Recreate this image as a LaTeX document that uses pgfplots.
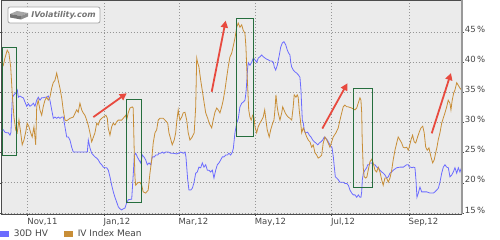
\documentclass[border=0pt]{standalone}
\usepackage{pgfplots}
\pgfplotsset{compat=1.18}
\usepackage{fontspec}
\setmainfont{DejaVu Sans}
\usetikzlibrary{arrows.meta}
\definecolor{hvblue}{RGB}{108,108,255}
\definecolor{ivorange}{RGB}{200,142,55}
\definecolor{bgGray}{RGB}{235,235,235}
\definecolor{gridGray}{RGB}{150,150,150}
\definecolor{txtGray}{RGB}{70,70,70}
\definecolor{boxGreen}{RGB}{38,110,62}
\definecolor{arrRed}{RGB}{232,74,63}
\begin{document}
\begin{tikzpicture}
\path[use as bounding box] (-1.7pt,-26pt) rectangle (498.3pt,214pt);
\fill[white] (-1.7pt,-26pt) rectangle (498.3pt,214pt);
\begin{axis}[
  at={(0pt,0pt)}, anchor=south west,
  scale only axis, width=460pt, height=214pt,
  xmin=-20.8, xmax=347.2, ymin=14.83, ymax=50.32,
  axis background/.style={fill=bgGray},
  axis line style={draw=black!70, line width=0.8pt},
  xtick={0,61,121,182,243,305},
  xticklabels={{Nov,11},{Jan,12},{Mar,12},{May,12},{Jul,12},{Sep,12}},
  ytick={15,20,25,30,35,40,45},
  yticklabels={{15\,\%},{20\,\%},{25\,\%},{30\,\%},{35\,\%},{40\,\%},{45\,\%}},
  yticklabel pos=right,
  grid=major,
  major grid style={gridGray, dash pattern=on 1pt off 2pt, line width=0.7pt},
  tick align=outside, major tick length=2pt,
  tick style={black!70, line width=0.6pt},
  xticklabel style={anchor=north west, inner sep=0pt, xshift=-0.5pt, yshift=-2pt,
     font=\fontsize{8.5}{10}\selectfont, text=txtGray},
  yticklabel style={anchor=west, inner sep=0pt, xshift=1pt, yshift=3pt,
     font=\fontsize{8.5}{10}\selectfont, text=txtGray},
  legend style={at={(-0.0037,-0.0935)}, anchor=west, draw=none, fill=none,
     inner sep=0pt, outer sep=0pt, legend columns=2,
     font=\fontsize{9}{10}\selectfont, text=txtGray,
     nodes={inner sep=1pt},
     /tikz/every odd column/.append style={column sep=4pt},
     /tikz/every even column/.append style={column sep=15pt}},
  legend image code/.code={\fill[#1] (0pt,-2.8pt) rectangle (8pt,2.8pt);},
]
\addplot[hvblue, line width=0.8pt] coordinates {
(-22.2,28.4) (-19.5,28.8) (-18.2,28.4) (-16.8,28.3) (-15.5,28.3) (-14.2,27.9) (-13.4,28.4)
(-12.8,31.6) (-12.3,34.1) (-11.0,34.6) (-9.6,34.9) (-8.3,35.4) (-7.5,34.2) (-6.2,34.4)
(-4.8,34.2) (-3.5,34.1) (-2.2,33.4) (-0.8,32.7) (0.5,33.1) (1.8,32.7) (3.2,32.9) (4.5,33.2)
(5.8,32.7) (7.2,33.7) (8.5,34.2) (9.8,33.7) (11.2,34.1) (12.5,34.1) (13.8,34.2) (15.2,34.2)
(16.5,34.4) (17.8,33.7) (19.2,32.1) (20.5,30.7) (21.8,30.9) (23.2,30.7) (24.5,30.9)
(25.8,30.7) (27.2,30.9) (28.5,30.9) (29.8,29.3) (31.2,27.6) (32.5,27.6) (33.8,27.1)
(35.2,25.9) (36.5,25.1) (39.4,25.1) (41.8,25.1) (44.5,25.1) (47.7,25.1) (48.5,27.1)
(49.8,25.8) (51.2,24.9) (52.5,24.6) (53.8,24.3) (55.2,24.1) (56.5,23.8) (57.8,23.3)
(59.2,23.0) (60.5,22.6) (61.8,22.5) (63.2,22.5) (64.5,22.1) (65.8,21.0) (67.2,19.6)
(68.5,18.5) (69.8,17.6) (71.2,16.8) (72.5,16.0) (73.8,15.7) (75.2,15.5) (76.5,15.7)
(77.8,15.8) (79.2,16.7) (80.5,17.2) (83.2,17.3) (84.5,21.6) (85.3,24.6) (86.4,24.9)
(87.7,24.3) (89.0,23.8) (90.4,23.3) (91.7,24.6) (93.0,24.3) (94.4,23.8) (95.7,23.0)
(97.0,23.3) (98.4,23.0) (99.7,24.3) (101.3,24.3) (102.4,24.6) (104.0,24.6) (105.0,24.9)
(106.4,24.9) (107.7,25.1) (109.0,24.9) (110.4,25.1) (112.5,25.1) (114.6,24.9) (116.5,24.9)
(119.2,24.8) (120.5,24.9) (122.4,25.1) (124.5,24.9) (125.8,25.1) (126.6,24.3) (128.0,20.5)
(129.0,18.8) (130.4,18.8) (131.7,19.1) (133.0,20.0) (134.4,21.6) (135.7,21.8) (137.0,22.6)
(138.4,22.5) (139.7,23.3) (141.0,22.6) (142.4,23.0) (143.7,22.1) (145.0,22.1) (146.4,21.8)
(147.7,22.1) (149.0,20.8) (150.4,22.1) (151.7,23.0) (153.0,23.3) (154.4,23.8) (155.7,24.3)
(157.0,24.3) (158.4,24.6) (159.7,24.6) (161.0,24.9) (162.4,24.6) (163.7,25.1) (164.5,25.7)
(165.8,28.3) (167.2,29.9) (168.5,30.7) (169.8,32.6) (171.2,33.2) (172.5,33.4) (173.8,33.7)
(174.6,34.9) (175.2,36.6) (176.0,39.2) (176.5,39.9) (177.8,39.5) (179.2,40.0) (180.5,40.7)
(181.8,40.4) (183.2,40.0) (184.5,40.7) (185.8,40.9) (187.2,41.2) (188.5,40.9) (189.8,40.7)
(191.2,40.5) (192.5,40.4) (193.8,40.2) (195.2,40.2) (196.5,40.0) (197.3,39.2) (198.4,38.7)
(199.7,39.5) (200.5,40.4) (201.3,41.2) (202.4,42.5) (203.7,43.2) (205.0,43.4) (206.4,42.9)
(207.7,42.0) (208.8,41.5) (209.8,41.2) (210.4,40.0) (211.2,39.2) (212.5,38.7) (213.8,38.4)
(215.2,38.2) (216.5,37.9) (217.8,37.5) (218.6,35.4) (219.2,32.6) (219.7,30.4) (220.5,29.9)
(221.0,29.1) (221.8,28.4) (222.6,28.3) (224.0,28.4) (225.3,27.9) (226.6,27.6) (228.0,27.1)
(229.3,26.8) (230.6,26.6) (232.0,26.3) (233.3,26.6) (234.6,26.8) (236.0,27.1) (237.3,27.6)
(238.4,27.4) (239.7,27.1) (241.0,26.6) (242.4,26.1) (243.4,25.9) (244.5,24.3) (245.3,22.6)
(246.1,21.0) (247.2,20.8) (248.5,20.5) (249.8,20.1) (251.2,20.1) (252.5,20.1) (253.8,19.9)
(255.2,19.9) (256.5,19.6) (257.8,18.8) (259.2,18.3) (260.5,18.0) (261.8,18.0) (263.2,17.6)
(264.5,18.0) (265.8,17.6) (266.6,17.6) (267.2,18.5) (267.7,20.5) (268.5,21.6) (269.8,22.1)
(271.2,22.5) (272.0,23.0) (273.0,23.0) (273.8,23.3) (275.2,23.3) (276.5,23.0) (277.8,23.0)
(279.2,22.6) (280.5,22.5) (281.8,22.1) (283.2,21.8) (284.5,21.6) (285.8,21.3) (287.2,20.8)
(288.5,21.0) (289.8,21.6) (291.2,21.8) (292.5,22.1) (295.2,22.5) (297.8,22.6) (300.5,22.6)
(303.2,23.0) (304.5,23.0) (305.3,22.6) (306.4,22.6) (307.4,22.5) (308.5,22.6) (309.8,22.5)
(310.6,20.5) (311.4,17.6) (312.5,18.3) (313.8,19.3) (315.2,18.5) (316.5,18.5) (319.2,18.5)
(321.8,18.3) (324.5,18.3) (325.8,18.5) (327.2,18.8) (328.5,19.1) (329.8,20.1) (331.2,21.6)
(332.5,22.6) (333.8,23.0) (335.2,22.6) (336.5,22.5) (337.8,21.0) (339.2,21.3) (340.5,21.8)
(341.8,22.5) (343.2,21.6) (344.5,22.5) (345.8,21.8) (347.2,22.6)
};
\addlegendentry{30D HV}
\addplot[ivorange, line width=0.8pt] coordinates {
(-22.2,40.4) (-20.8,40.0) (-19.5,39.5) (-18.2,40.7) (-16.4,42.0) (-15.0,41.5) (-13.6,39.2)
(-12.4,34.9) (-11.0,30.9) (-9.6,28.8) (-8.4,28.3) (-7.0,30.4) (-5.6,28.3) (-4.4,26.3)
(-3.0,27.1) (-1.6,28.4) (-0.4,29.9) (1.0,29.3) (2.4,28.3) (3.6,27.6) (5.0,29.3) (6.4,26.3)
(7.2,32.6) (8.4,33.7) (9.8,32.1) (11.2,31.2) (12.4,32.6) (13.8,33.7) (15.2,34.2) (16.4,33.7)
(17.8,34.2) (19.2,35.7) (20.4,36.6) (21.8,37.0) (23.2,38.2) (24.4,37.0) (25.8,35.7)
(27.2,34.1) (28.4,32.1) (29.8,30.4) (31.2,30.3) (33.8,30.7) (36.4,30.9) (39.2,32.1)
(40.4,31.7) (41.8,33.2) (43.2,32.1) (44.4,31.6) (45.8,31.2) (47.2,30.4) (48.4,29.6)
(49.8,28.3) (51.2,26.8) (53.8,28.3) (55.2,29.9) (56.4,29.6) (57.8,30.4) (59.2,30.7)
(60.4,30.9) (62.6,31.2) (63.7,30.7) (64.4,29.1) (65.8,27.9) (67.2,29.3) (68.4,29.9)
(69.8,29.6) (71.2,30.1) (72.4,30.4) (73.8,30.4) (75.2,30.4) (77.2,30.9) (78.4,31.2)
(79.2,30.4) (80.4,31.6) (81.8,32.4) (83.6,32.6) (84.4,32.4) (85.2,25.4) (85.8,20.9)
(86.4,19.6) (88.0,20.0) (89.8,20.1) (91.2,19.6) (92.4,18.5) (94.4,18.3) (96.4,18.8)
(97.8,21.6) (99.2,23.8) (100.4,26.6) (101.8,28.3) (103.2,28.8) (104.4,30.4) (105.8,30.7)
(108.4,30.7) (109.8,30.4) (112.0,29.9) (113.0,28.3) (114.6,27.1) (115.6,26.3) (117.2,27.1)
(118.4,28.3) (119.2,30.1) (120.4,32.1) (121.0,31.2) (121.8,30.4) (123.2,30.9) (124.4,31.6)
(125.8,31.7) (127.2,30.4) (128.4,28.3) (129.8,27.1) (131.6,27.6) (133.2,28.3) (134.4,32.6)
(135.2,40.7) (136.0,39.9) (137.0,39.2) (138.4,37.0) (139.6,35.4) (141.2,33.2) (142.4,31.6)
(144.0,30.7) (145.2,29.9) (147.2,29.1) (148.4,30.4) (149.8,31.7) (151.2,32.4) (152.4,32.1)
(153.8,31.6) (155.2,32.6) (156.4,33.7) (157.8,35.4) (159.2,37.5) (160.4,39.2) (161.8,40.9)
(163.2,41.5) (165.0,43.2) (166.0,44.2) (167.2,45.8) (168.4,46.5) (169.8,45.8) (171.2,46.2)
(172.4,45.3) (173.8,44.8) (174.6,42.5) (175.2,39.2) (176.0,35.9) (176.8,32.1) (177.8,30.9)
(178.8,30.4) (180.0,31.2) (181.0,30.9) (181.8,29.3) (183.2,28.3) (184.4,29.3) (185.8,29.9)
(187.2,30.4) (188.4,30.9) (189.6,32.1) (190.6,30.4) (191.6,28.8) (193.2,27.6) (194.4,28.8)
(196.0,29.9) (197.0,30.4) (197.8,32.1) (198.6,34.6) (199.6,32.6) (200.4,31.6) (201.8,30.4)
(203.2,31.6) (204.0,32.6) (205.0,32.1) (206.0,31.6) (207.2,31.2) (208.4,30.9) (209.8,30.7)
(211.2,30.4) (212.4,32.6) (213.2,34.6) (214.6,34.2) (215.6,34.6) (216.4,34.2) (217.2,32.1)
(218.4,29.9) (219.2,28.3) (220.4,29.1) (221.8,28.4) (223.2,27.6) (224.4,27.1) (225.8,26.8)
(227.2,25.9) (228.4,26.3) (229.8,25.0) (231.2,24.6) (232.4,24.1) (233.8,24.3) (235.2,24.6)
(236.4,26.6) (237.8,27.6) (239.2,27.1) (240.4,26.6) (241.8,25.9) (243.2,26.8) (244.4,27.6)
(246.6,28.3) (248.4,29.1) (249.8,30.4) (251.2,31.6) (252.4,32.6) (253.8,32.9) (255.2,32.6)
(256.4,32.6) (259.2,32.4) (261.8,32.1) (263.2,32.4) (264.4,33.2) (265.8,34.1) (266.6,33.7)
(267.2,31.6) (267.6,27.1) (268.4,22.6) (269.2,21.0) (270.4,20.8) (271.4,21.0) (272.4,22.1)
(273.8,23.5) (275.2,23.9) (276.4,23.3) (277.8,22.1) (279.2,21.8) (280.4,22.6) (281.8,21.8)
(283.2,20.5) (284.4,19.6) (285.8,20.8) (287.2,20.8) (288.4,20.1) (289.8,20.8) (291.2,22.1)
(292.4,23.8) (293.8,25.4) (295.2,26.6) (296.4,27.6) (297.8,27.1) (299.2,26.6) (300.4,25.9)
(301.8,25.8) (303.2,25.9) (304.4,25.4) (305.2,25.9) (306.6,27.1) (307.9,27.9) (309.2,26.8)
(310.4,26.6) (311.9,27.6) (313.2,28.4) (314.6,29.1) (316.0,29.4) (317.2,28.3) (318.4,25.9)
(319.6,25.4) (321.0,25.8) (322.6,24.3) (324.0,23.3) (325.2,23.8) (326.4,25.0) (327.4,25.9)
(328.4,27.1) (329.8,28.3) (331.2,29.9) (332.4,30.7) (333.8,31.6) (335.2,32.6) (336.4,33.7)
(337.8,33.2) (338.6,32.1) (339.6,33.7) (340.8,34.9) (341.8,35.4) (343.2,36.6) (344.4,36.2)
(345.8,35.7) (347.2,35.4)
};
\addlegendentry{IV Index Mean}
% annotation boxes
\draw[boxGreen, line width=1pt] (axis cs:-19.8,42.5) rectangle (axis cs:-8.6,24.6);
\draw[boxGreen, line width=1pt] (axis cs:79.4,33.9) rectangle (axis cs:91.4,16.8);
\draw[boxGreen, line width=1pt] (axis cs:167.4,47.2) rectangle (axis cs:181.0,27.6);
\draw[boxGreen, line width=1pt] (axis cs:260.3,35.7) rectangle (axis cs:275.5,19.3);
% arrows
\draw[arrRed, line width=1.8pt, -{Triangle[length=7pt,width=7pt]}] (axis cs:52.5,30.9) -- (axis cs:79.2,34.85);
\draw[arrRed, line width=1.8pt, -{Triangle[length=7pt,width=7pt]}] (axis cs:147.2,35.1) -- (axis cs:158.4,46.9);
\draw[arrRed, line width=1.8pt, -{Triangle[length=7pt,width=7pt]}] (axis cs:235.7,29.0) -- (axis cs:255.7,36.5);
\draw[arrRed, line width=1.8pt, -{Triangle[length=7pt,width=7pt]}] (axis cs:323.2,28.2) -- (axis cs:338.6,38.2);
\end{axis}
% right axis edge in gray
\draw[black!40, line width=1.6pt] (460pt,0pt) -- (460pt,214pt);
% logo
\filldraw[fill=white, draw=black!35, line width=0.8pt, rounded corners=2pt] (6.3pt,191pt) rectangle (98.3pt,207pt);
\fill[black!35] (8.3pt,200pt) -- (15.3pt,203pt) -- (26.3pt,201pt) -- (19.3pt,198pt) -- cycle;
\fill[black!55] (8.3pt,200pt) -- (19.3pt,198pt) -- (19.3pt,194.5pt) -- (8.3pt,196.5pt) -- cycle;
\fill[black!45] (19.3pt,198pt) -- (26.3pt,201pt) -- (26.3pt,197.5pt) -- (19.3pt,194.5pt) -- cycle;
\node[anchor=west, inner sep=0pt, text=black!55, font=\fontsize{8}{9}\selectfont\bfseries\itshape] at (29.5pt,199pt) {IVolatility.com};
\end{tikzpicture}
\end{document}
